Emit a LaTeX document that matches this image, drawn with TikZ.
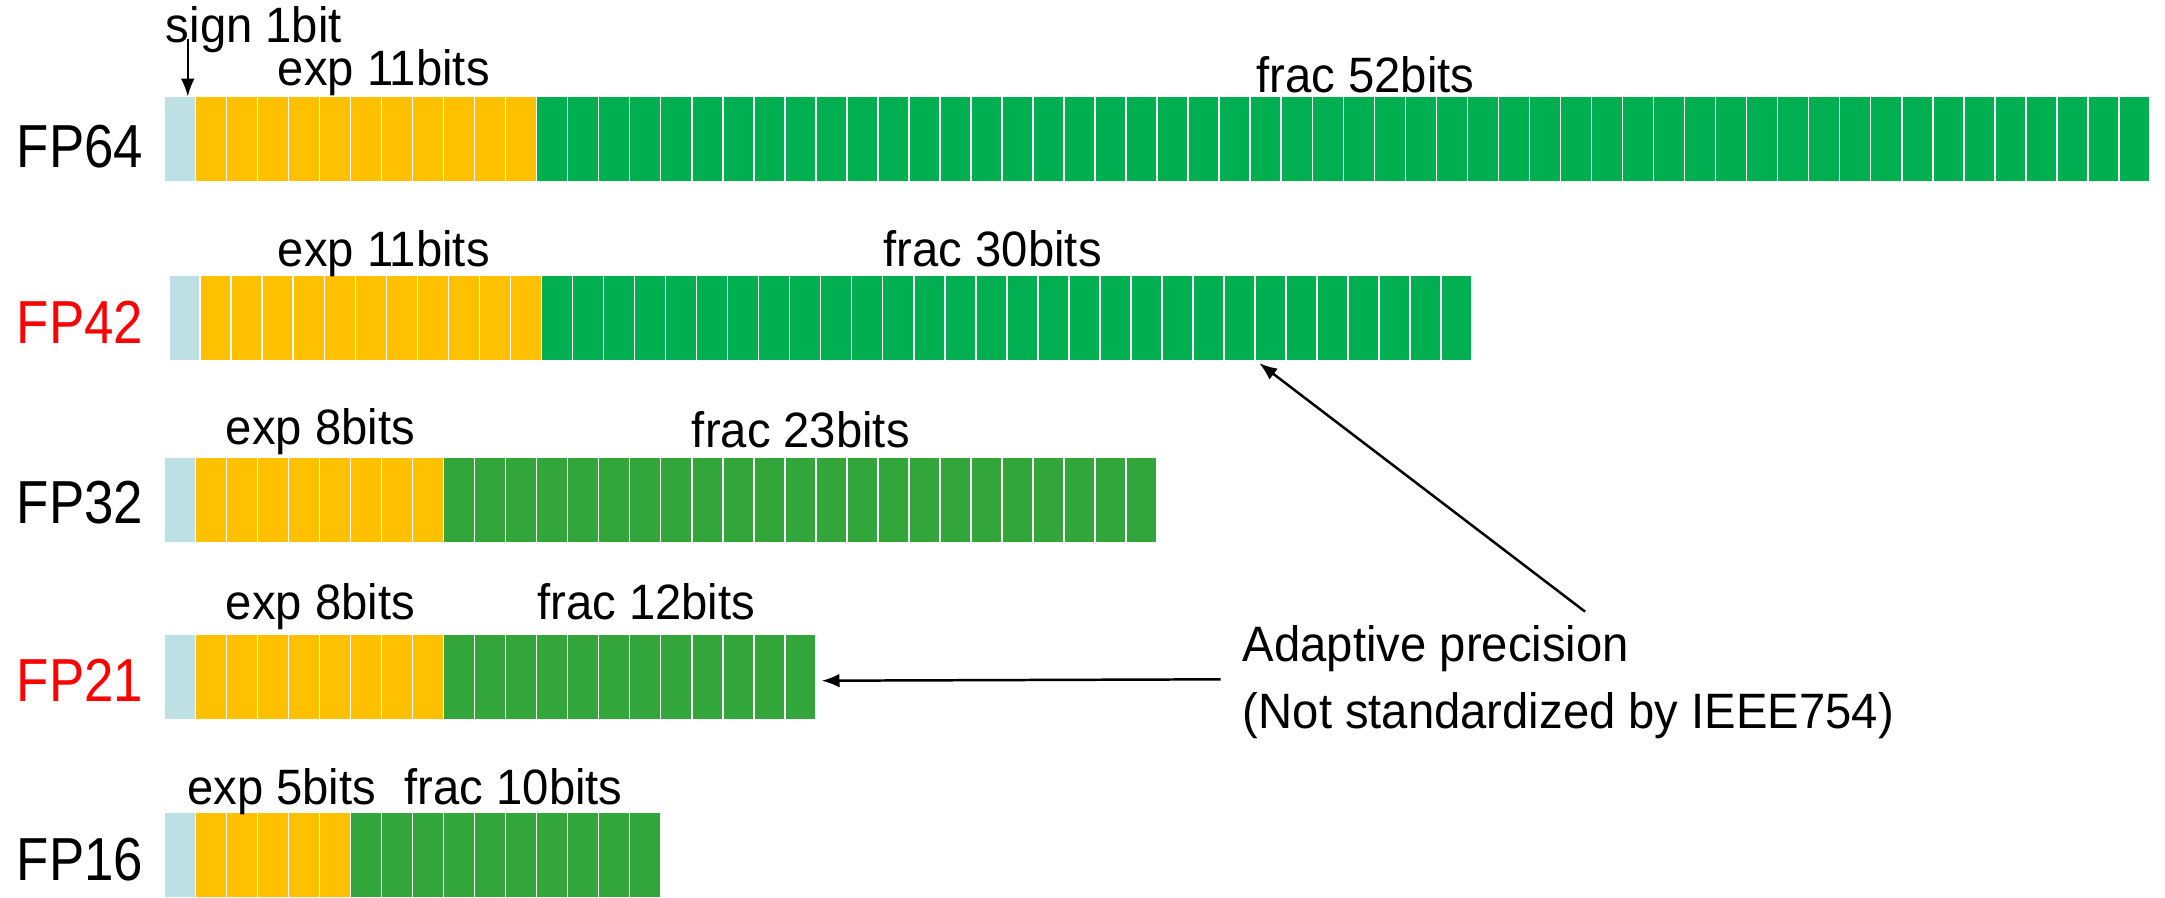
\documentclass[tikz,border=0pt]{standalone}
\usepackage{fontspec}
\setmainfont{Liberation Sans}
\usetikzlibrary{arrows.meta}
\definecolor{signc}{RGB}{189,224,228}
\definecolor{expc}{RGB}{255,192,0}
\definecolor{fracA}{RGB}{0,176,80}
\definecolor{fracB}{RGB}{51,166,59}
\definecolor{fpred}{RGB}{255,0,0}
\newcommand{\narrowtxt}[1]{\scalebox{0.95}[1]{#1}}
\newcommand{\fmttxt}[1]{\scalebox{0.87}[1]{#1}}
\newlength{\cellw}
% one register: #1 name, #2 left x, #3 top y, #4 exponent bits, #5 fraction bits, #6 fraction colour
\newcommand{\fprow}[6]{%
  \filldraw[cellbox, fill=signc] (#2,#3) rectangle ++(22.47,62);
  \foreach \i in {1,...,#4}
    \filldraw[cellbox, fill=expc] ({#2+\i*22.47},#3) rectangle ++(22.47,62);
  \foreach \i in {1,...,#5}
    \filldraw[cellbox, fill=#6] ({#2+(\i+#4)*22.47},#3) rectangle ++(22.47,62);
  \coordinate (#1-nw) at (#2,#3);
  \coordinate (#1-se) at ({#2+(1+#4+#5)*22.47},{#3+62});
}
\begin{document}
\begin{tikzpicture}[x=1pt, y=-1pt,
  cellbox/.style={draw=white, line width=1.1pt},
  lbl/.style={font=\fontsize{36}{48}\selectfont, inner sep=0pt, anchor=base},
  fmtlbl/.style={font=\fontsize{44}{52}\selectfont, inner sep=0pt, anchor=base west},
  pointer/.style={line width=1.8pt, -{Latex[length=13pt, width=10pt]}}]
\useasboundingbox (0,0) rectangle (1568,650);

% registers
\fprow{fp64}{119}{70}{11}{52}{fracA}
\fprow{fp42}{122.5}{199}{11}{30}{fracA}
\fprow{fp32}{119}{331}{8}{23}{fracB}
\fprow{fp21}{119}{459}{8}{12}{fracB}
\fprow{fp16}{119}{588}{5}{10}{fracB}

% format names
\node[fmtlbl] (n64) at (12,121) {\fmttxt{FP64}};
\node[fmtlbl, text=fpred] (n42) at (12,249) {\fmttxt{FP42}};
\node[fmtlbl] (n32) at (12,379) {\fmttxt{FP32}};
\node[fmtlbl, text=fpred] (n21) at (12,508) {\fmttxt{FP21}};
\node[fmtlbl] (n16) at (12,638) {\fmttxt{FP16}};

% field labels
\node[lbl, anchor=base west] (sign) at (120,31) {\narrowtxt{sign 1bit}};
\node[lbl] (e64) at (278,62) {\narrowtxt{exp 11bits}};
\node[lbl] (f64) at (989,67) {\narrowtxt{frac 52bits}};
\node[lbl] (e42) at (278,193) {\narrowtxt{exp 11bits}};
\node[lbl] (f42) at (719,193) {\narrowtxt{frac 30bits}};
\node[lbl] (e32) at (232,322) {\narrowtxt{exp 8bits}};
\node[lbl] (f32) at (580,324) {\narrowtxt{frac 23bits}};
\node[lbl] (e21) at (232,449) {\narrowtxt{exp 8bits}};
\node[lbl] (f21) at (468,449) {\narrowtxt{frac 12bits}};
\node[lbl] (e16) at (204,583) {\narrowtxt{exp 5bits}};
\node[lbl] (f16) at (372,583) {\narrowtxt{frac 10bits}};

% note
\node[font=\fontsize{36}{49}\selectfont, align=left, anchor=west, inner sep=0pt] (note) at (900,494)
  {\narrowtxt{Adaptive precision}\\\narrowtxt{(Not standardized by IEEE754)}};

% pointers
\coordinate (signtail) at (136,28);
\coordinate (signhead) at (136,70);
\coordinate (fp42hit) at (912,263);
\coordinate (fp21hit) at (595,493);
\coordinate (notetop) at (1148,443);
\coordinate (noteleft) at (884,492);
\draw[pointer] (signtail) -- (signhead);
\draw[pointer] (notetop) -- (fp42hit);
\draw[pointer] (noteleft) -- (fp21hit);
\end{tikzpicture}
\end{document}
